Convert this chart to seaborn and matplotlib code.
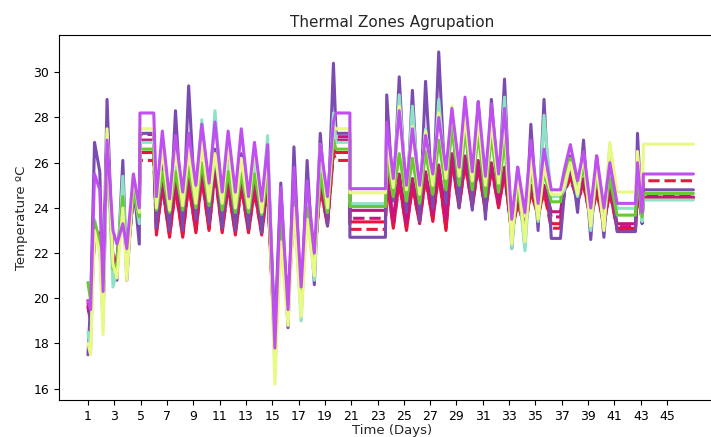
import numpy as np
import pandas as pd
import matplotlib
matplotlib.use("Agg")
import matplotlib.pyplot as plt
import seaborn as sns

# ---------- time grid (days) ----------
t_days = [
    # week 1
    1.0, 1.2, 1.5, 1.9, 2.15, 2.45, 2.9, 3.2, 3.65, 3.95, 4.45, 4.9,
    # weekend
    4.95, 6.0,
    # days 6-19
    6.2, 6.65, 7.2, 7.65, 8.2, 8.65, 9.2, 9.65, 10.2, 10.65, 11.2, 11.65,
    12.2, 12.65, 13.2, 13.65, 14.2, 14.65, 15.2, 15.65, 16.2, 16.65,
    17.2, 17.65, 18.2, 18.65, 19.2, 19.65,
    # holidays
    19.85, 20.9, 20.9, 23.6,
    # days 23-35
    23.7, 24.2, 24.65, 25.2, 25.65, 26.2, 26.65, 27.2, 27.65, 28.2, 28.65,
    29.2, 29.65, 30.2, 30.65, 31.2, 31.65, 32.2, 32.65, 33.2, 33.65,
    34.2, 34.65, 35.2, 35.65,
    36.2, 36.9,
    37.2, 37.65, 38.2, 38.65, 39.2, 39.65, 40.2, 40.65,
    41.2, 42.6,
    42.75, 43.1,
    43.2, 47.0,
]

# ---------- temperatures per zone group ----------
violet = [
    19.9, 19.5, 25.5, 24.8, 20.3, 27.0, 23.0, 22.4, 23.3, 22.2, 25.5, 24.0,
    28.2, 28.2,
    24.5, 27.4, 24.4, 27.2, 24.7, 27.3, 25.0, 27.7, 25.1, 27.8, 24.7, 27.4,
    24.7, 27.5, 24.5, 26.9, 24.3, 26.8, 17.8, 24.9, 19.5, 25.8,
    20.5, 25.2, 22.0, 26.8, 24.5, 27.8,
    28.2, 28.2, 24.85, 24.85,
    27.8, 25.3, 28.3, 25.0, 27.5, 25.0, 27.2, 25.5, 28.0, 25.7, 28.4,
    25.8, 28.9, 25.6, 28.7, 25.4, 28.6, 25.5, 28.4, 23.5, 25.8,
    23.8, 27.0, 24.2, 26.6,
    24.8, 24.8,
    25.7, 26.8, 25.2, 26.5, 24.0, 26.3, 24.0, 26.0,
    24.2, 24.2,
    26.0, 23.8,
    25.5, 25.5,
]
purple = [
    17.5, 19.8, 26.9, 25.6, 20.0, 28.8, 21.5, 20.8, 26.1, 20.8, 25.2, 22.4,
    27.3, 27.3,
    23.1, 26.0, 23.0, 28.3, 23.0, 29.4, 23.5, 27.7, 23.3, 26.6, 23.1, 26.3,
    23.0, 26.4, 23.1, 26.2, 22.9, 26.5, 18.5, 25.1, 18.7, 26.7,
    19.5, 26.1, 20.6, 27.3, 23.2, 30.4,
    27.3, 27.3, 22.7, 22.7,
    29.0, 24.3, 29.8, 23.8, 29.2, 23.4, 29.6, 24.0, 30.9, 24.2, 28.2,
    24.0, 28.0, 23.9, 28.7, 23.5, 28.8, 24.8, 29.7, 22.2, 25.8,
    22.3, 27.7, 23.0, 28.8,
    22.65, 22.65,
    24.7, 26.3, 23.8, 27.0, 22.6, 26.3, 22.7, 26.5,
    22.95, 22.95,
    27.3, 23.3,
    24.8, 24.8,
]
yellow = [
    18.0, 17.5, 23.0, 22.0, 18.4, 27.5, 21.5, 20.9, 24.0, 20.8, 25.5, 23.8,
    27.5, 27.5,
    24.0, 26.6, 23.9, 26.7, 24.1, 26.5, 24.2, 26.9, 24.3, 26.4, 24.2, 26.8,
    24.0, 26.2, 24.0, 26.8, 23.8, 26.4, 16.2, 22.5, 18.8, 24.0,
    19.2, 23.5, 21.0, 26.8, 24.0, 27.6,
    27.5, 27.5, 24.67, 24.67,
    27.0, 24.9, 28.5, 24.8, 27.6, 24.6, 27.4, 25.0, 28.2, 25.3, 28.5,
    25.4, 28.0, 25.2, 27.9, 25.0, 27.8, 25.1, 28.0, 22.4, 25.6,
    22.5, 26.2, 23.5, 25.8,
    24.6, 24.6,
    25.0, 26.0, 24.6, 26.4, 23.2, 25.9, 23.0, 26.9,
    24.7, 24.7,
    26.5, 24.0,
    26.82, 26.82,
]
aqua = [
    18.5, 17.6, 23.5, 22.3, 18.8, 27.3, 20.5, 21.2, 25.4, 21.0, 25.0, 23.3,
    26.9, 26.9,
    24.2, 25.5, 24.3, 25.8, 24.3, 26.2, 24.6, 27.9, 24.5, 28.3, 24.3, 26.0,
    24.2, 25.9, 24.2, 26.0, 24.0, 27.2, 17.0, 23.0, 18.9, 24.5,
    19.0, 24.3, 20.8, 26.0, 23.8, 28.2,
    26.9, 26.9, 24.19, 24.19,
    27.5, 24.6, 29.0, 24.5, 28.5, 24.3, 27.5, 24.7, 28.8, 25.0, 28.0,
    25.1, 27.8, 25.0, 27.9, 24.8, 28.0, 25.0, 28.9, 22.2, 25.4,
    22.1, 26.0, 23.4, 28.1,
    24.5, 24.5,
    24.8, 26.0, 24.5, 26.3, 23.0, 25.8, 23.2, 26.8,
    23.98, 23.98,
    26.0, 23.4,
    24.35, 24.35,
]
green = [
    20.7, 19.9, 23.4, 22.5, 19.0, 27.2, 21.3, 21.5, 24.5, 21.2, 24.8, 23.6,
    26.6, 26.6,
    23.9, 25.6, 23.8, 25.6, 23.9, 25.8, 24.0, 26.0, 24.1, 26.4, 23.9, 25.6,
    23.8, 25.5, 23.8, 25.5, 23.7, 25.4, 17.5, 23.8, 19.5, 24.3,
    20.0, 24.0, 21.5, 25.5, 23.8, 27.0,
    26.6, 26.6, 24.06, 24.06,
    26.3, 24.5, 26.4, 24.3, 26.2, 24.2, 26.5, 24.6, 27.0, 24.8, 27.6,
    25.0, 27.5, 24.8, 27.3, 24.5, 27.2, 24.7, 27.0, 22.6, 25.0,
    22.8, 25.8, 23.5, 25.6,
    24.27, 24.27,
    25.5, 26.2, 24.8, 25.8, 23.6, 25.4, 23.6, 25.3,
    23.68, 23.68,
    25.5, 23.6,
    24.64, 24.64,
]
magenta = [
    19.6, 19.0, 23.0, 22.7, 19.3, 27.4, 21.6, 21.6, 24.2, 21.4, 24.6, 23.5,
    27.0, 27.0,
    23.2, 25.3, 23.1, 25.2, 23.2, 25.4, 23.4, 25.6, 23.5, 25.8, 23.3, 25.3,
    23.2, 25.3, 23.3, 25.2, 23.1, 25.2, 17.8, 23.6, 19.6, 24.1,
    20.1, 23.9, 21.5, 25.2, 23.4, 26.8,
    27.0, 27.0, 23.89, 23.89,
    25.6, 23.4, 25.5, 23.3, 25.3, 23.5, 25.6, 23.7, 25.9, 23.5, 26.4,
    24.2, 26.3, 24.2, 26.1, 24.0, 26.0, 24.2, 25.8, 22.9, 24.5,
    23.1, 25.0, 23.7, 25.0,
    23.83, 23.83,
    25.0, 25.6, 24.5, 25.3, 23.5, 25.0, 23.4, 24.9,
    23.3, 23.3,
    25.0, 23.5,
    24.48, 24.48,
]
magenta_dash = [
    19.7, 19.1, 23.1, 22.8, 19.4, 27.3, 21.7, 21.7, 24.3, 21.5, 24.7, 23.6,
    27.25, 27.25,
    23.3, 25.2, 23.2, 25.1, 23.3, 25.3, 23.5, 25.5, 23.6, 25.7, 23.4, 25.2,
    23.3, 25.2, 23.4, 25.1, 23.2, 25.1, 17.9, 23.5, 19.7, 24.0,
    20.2, 23.8, 21.6, 25.1, 23.5, 26.7,
    27.15, 27.15, 23.54, 23.54,
    25.5, 23.5, 25.4, 23.4, 25.2, 23.6, 25.5, 23.8, 25.8, 23.6, 26.3,
    24.3, 26.2, 24.3, 26.0, 24.1, 25.9, 24.3, 25.7, 23.0, 24.4,
    23.2, 24.9, 23.8, 24.9,
    23.6, 23.6,
    24.9, 25.5, 24.5, 25.2, 23.6, 24.9, 23.5, 24.8,
    23.17, 23.17,
    24.9, 23.5,
    24.52, 24.52,
]
red = [
    19.9, 19.2, 22.8, 22.9, 19.5, 27.6, 21.5, 21.8, 24.0, 21.5, 24.5, 23.4,
    26.45, 26.45,
    22.8, 25.0, 22.7, 24.9, 22.7, 25.1, 22.9, 25.4, 23.0, 25.6, 22.9, 25.0,
    22.8, 25.0, 22.9, 24.8, 22.8, 25.0, 17.6, 23.5, 19.8, 24.0,
    20.2, 23.8, 21.6, 25.0, 23.2, 26.6,
    26.45, 26.45, 23.38, 23.38,
    25.3, 23.1, 25.2, 23.0, 25.0, 23.3, 25.4, 23.4, 25.6, 23.0, 26.1,
    24.0, 26.0, 24.0, 25.9, 23.8, 25.8, 24.0, 25.6, 22.8, 24.3,
    23.0, 24.8, 23.6, 24.8,
    23.3, 23.3,
    24.8, 25.4, 24.3, 25.1, 23.4, 24.8, 23.2, 24.8,
    23.05, 23.05,
    24.8, 23.5,
    24.45, 24.45,
]
red_dash = [
    19.8, 19.1, 22.9, 22.8, 19.4, 27.5, 21.6, 21.7, 24.1, 21.6, 24.6, 23.5,
    26.1, 26.1,
    22.9, 24.9, 22.8, 24.8, 22.8, 25.0, 23.0, 25.3, 23.1, 25.5, 23.0, 24.9,
    22.9, 24.9, 23.0, 24.7, 22.9, 24.9, 17.7, 23.4, 19.9, 23.9,
    20.3, 23.7, 21.7, 24.9, 23.3, 26.4,
    26.1, 26.1, 23.05, 23.05,
    25.2, 23.2, 25.1, 23.1, 24.9, 23.4, 25.3, 23.5, 25.5, 23.1, 26.0,
    24.1, 25.9, 24.1, 25.8, 23.9, 25.7, 24.1, 25.5, 22.9, 24.2,
    23.1, 24.7, 23.7, 24.7,
    23.1, 23.1,
    24.7, 25.3, 24.3, 25.0, 23.5, 24.7, 23.3, 24.7,
    23.1, 23.1,
    24.7, 23.5,
    25.2, 25.2,
]

# draw order: first drawn ends up underneath
zones = [
    ("red_dash", red_dash, "#E01E3C", "--"),
    ("magenta_dash", magenta_dash, "#C8147F", "--"),
    ("red", red, "#EB143C", "-"),
    ("magenta", magenta, "#C8147F", "-"),
    ("purple", purple, "#7A4BB0", "-"),
    ("aqua", aqua, "#8DE3C5", "-"),
    ("green", green, "#66CC2E", "-"),
    ("yellow", yellow, "#EAF884", "-"),
    ("violet", violet, "#BF4FF0", "-"),
]

sns.set_style("ticks")
plt.rcParams["font.family"] = ["DejaVu Sans"]
plt.rcParams["axes.edgecolor"] = "black"
plt.rcParams["xtick.color"] = "black"
plt.rcParams["ytick.color"] = "black"

fig = plt.figure(figsize=(7.11, 4.37), dpi=100)
ax = fig.add_axes([59 / 711, 37 / 437, 666 / 711, 365 / 437])

for name, vals, col, ls in zones:
    df = pd.DataFrame({"t": t_days, "T": vals})
    sns.lineplot(data=df, x="t", y="T", ax=ax, color=col, linestyle=ls,
                 linewidth=2.2, estimator=None, sort=False)

ax.set_xlim(-1.2, 49.4)
ax.set_ylim(15.5, 31.65)
ax.set_xticks(np.arange(1, 46, 2))
ax.set_yticks(np.arange(16, 31, 2))
ax.tick_params(labelsize=9, length=3.5, width=0.8)
ax.set_title("Thermal Zones Agrupation", fontsize=11)
ax.set_xlabel("Time (Days)", fontsize=9.5, labelpad=1)
ax.set_ylabel("Temperature ºC", fontsize=9.5)

fig.savefig("out.png", dpi=100)
